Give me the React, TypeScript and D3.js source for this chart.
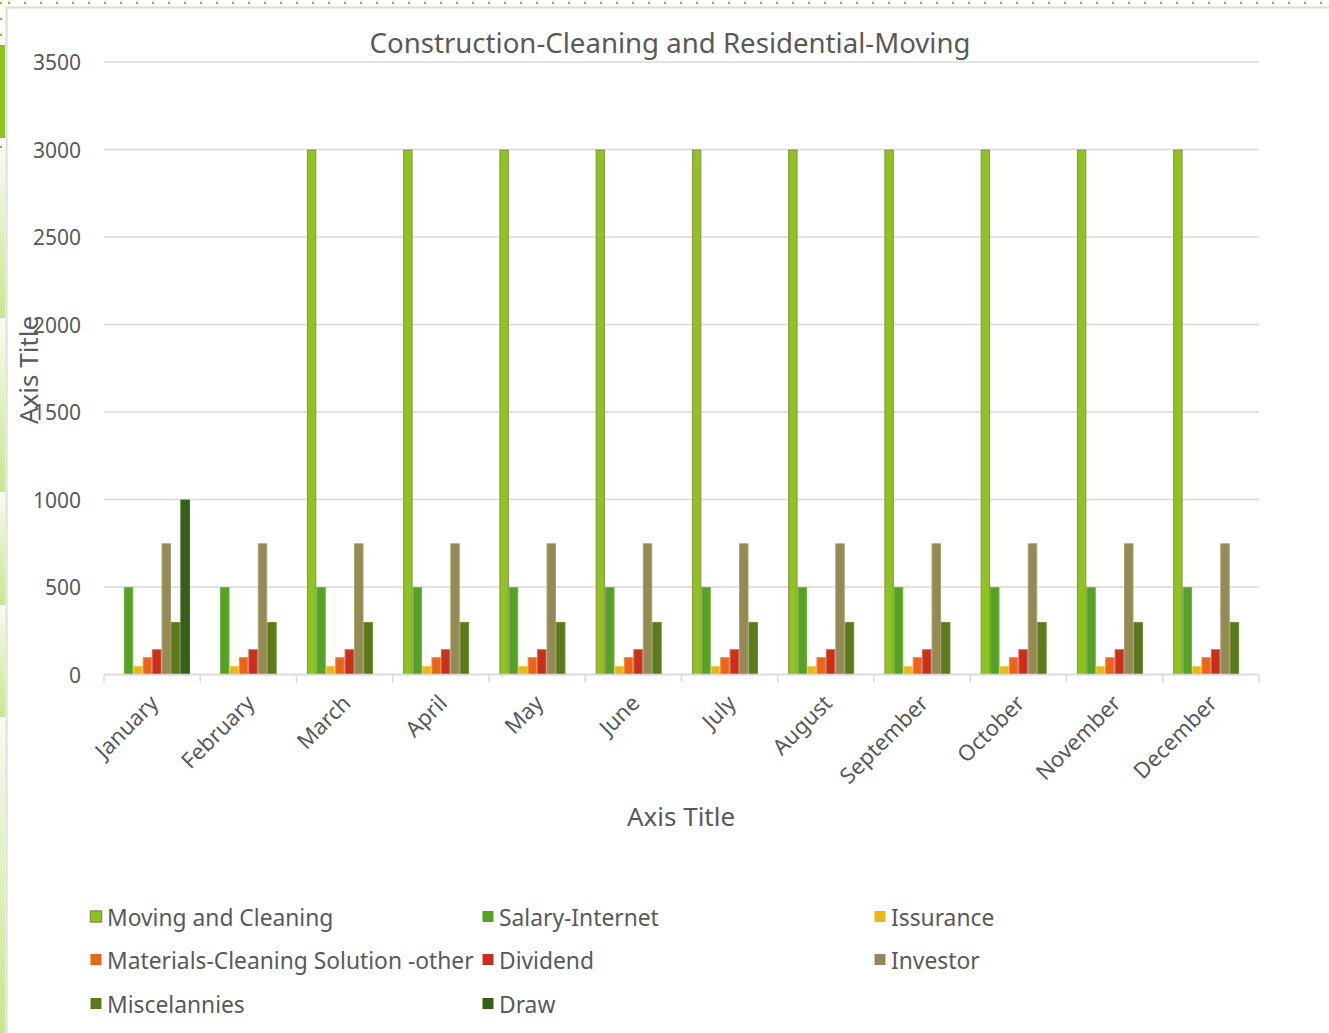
import React from "react";
import * as d3 from "d3";

const months = ["January","February","March","April","May","June","July","August","September","October","November","December"];
const legendLabels = ["Moving and Cleaning","Salary-Internet","Issurance","Materials-Cleaning Solution -other","Dividend","Investor","Miscelannies","Draw"];
const seriesColors = ["#8fc31f","#56a127","#e8b71a","#e8651a","#c8301e","#948a54","#5a7a1b","#336119"];
const seriesStroke = ["#948a54","#6fb33a","#f0cc50","#f08a4a","#d85a48","#a89e6c","#6d8a30","#336119"];

const movingCleaning = [0,0,3000,3000,3000,3000,3000,3000,3000,3000,3000,3000];
const salaryInternet = [500,500,500,500,500,500,500,500,500,500,500,500];
const insurance = [50,50,50,50,50,50,50,50,50,50,50,50];
const materials = [100,100,100,100,100,100,100,100,100,100,100,100];
const dividend = [145,145,145,145,145,145,145,145,145,145,145,145];
const investor = [750,750,750,750,750,750,750,750,750,750,750,750];
const miscelannies = [300,300,300,300,300,300,300,300,300,300,300,300];
const draw = [1000,0,0,0,0,0,0,0,0,0,0,0];
const yTicks = [0,500,1000,1500,2000,2500,3000,3500];

const allSeries = [movingCleaning, salaryInternet, insurance, materials, dividend, investor, miscelannies, draw];

const FONT = "'Noto Sans', sans-serif";
const TXT = "#595959";

export default function App() {
  const W = 1329, H = 1033;
  const left = 104, right = 1259, top = 62, bottom = 674.6;
  const x = d3.scaleBand<string>().domain(months).range([left, right]).paddingInner(0).paddingOuter(0);
  const y = d3.scaleLinear().domain([0, 3500]).range([bottom, top]);
  const bw = x.bandwidth();
  const gap = bw * 0.108;
  const inner = d3.scaleBand<number>().domain(d3.range(8)).range([gap, bw - gap]);

  const segs = [[150,318],[320,492],[494,605],[607,717],[719,1033]];
  const dotsTop = d3.range(8, W, 16);
  const dotsLeft = [2, 18, 34, 146];

  const legendCols = [90, 482, 874];
  const legendRows = [917, 960, 1004];

  return (
    <svg width={W} height={H} style={{position:"absolute", left:0, top:0, background:"#fff"}} fontFamily={FONT}>
      <defs>
        <linearGradient id="lg" x1="0" y1="0" x2="0" y2="1">
          <stop offset="0" stopColor="#f7fbee" />
          <stop offset="1" stopColor="#c8e68e" />
        </linearGradient>
      </defs>
      <rect x={0} y={0} width={W} height={H} fill="#fff" />
      {dotsTop.map((d,i)=>(<rect key={"dt"+i} x={d} y={2} width={2} height={2} fill="#8dc21f" />))}
      {dotsLeft.map((d,i)=>(<rect key={"dl"+i} x={0} y={d} width={2} height={2} fill="#8dc21f" />))}
      <rect x={0} y={45} width={5} height={93} fill="#8dc21f" />
      {segs.map((s,i)=>(<rect key={"sg"+i} x={0} y={s[0]} width={5} height={s[1]-s[0]} fill="url(#lg)" />))}
      <line x1={6} x2={W} y1={7.5} y2={7.5} stroke="#dcdcdc" strokeWidth={2} />
      <line x1={6.5} x2={6.5} y1={7} y2={H} stroke="#dcdcdc" strokeWidth={2} />

      <text x={670} y={46} textAnchor="middle" dominantBaseline="middle" fontSize={27.6} fill={TXT}>Construction-Cleaning and Residential-Moving</text>

      {yTicks.map(t => (
        <line key={"g"+t} x1={left} x2={right} y1={y(t)} y2={y(t)} stroke="#d9d9d9" strokeWidth={1.5} />
      ))}
      {yTicks.map(t => (
        <text key={"yt"+t} x={81} y={y(t)} textAnchor="end" dominantBaseline="central" fontSize={21} fill={TXT}>{t}</text>
      ))}

      {allSeries.map((vals, si) => (
        <g key={"s"+si}>
          {vals.map((v, mi) => v > 0 ? (
            <rect key={mi} x={(x(months[mi]) as number) + (inner(si) as number) + 0.5} y={y(v) + 0.5}
              width={inner.bandwidth() - 1} height={y(0) - y(v) - 0.5}
              fill={seriesColors[si]} stroke={seriesStroke[si]} strokeWidth={1} />
          ) : null)}
        </g>
      ))}

      <line x1={left} x2={right} y1={y(0)} y2={y(0)} stroke="#d9d9d9" strokeWidth={1.5} />
      {d3.range(13).map(i => {
        const xx = left + i * bw;
        return <line key={"tk"+i} x1={xx} x2={xx} y1={y(0)} y2={y(0)+8} stroke="#d9d9d9" strokeWidth={1.5} />;
      })}
      {months.map(m => {
        const cx = (x(m) as number) + bw / 2;
        return (
          <text key={"xl"+m} transform={`translate(${cx - 6},${691}) rotate(-45)`} textAnchor="end" dominantBaseline="hanging" fontSize={22} fill={TXT}>{m}</text>
        );
      })}

      <text x={681} y={816} textAnchor="middle" dominantBaseline="central" fontSize={26} fill={TXT}>Axis Title</text>
      <text transform={`translate(28,370) rotate(-90)`} textAnchor="middle" dominantBaseline="central" fontSize={26} fill={TXT}>Axis Title</text>

      {legendLabels.map((name, i) => {
        const col = i % 3, row = Math.floor(i / 3);
        const lx = legendCols[col], ly = legendRows[row];
        return (
          <g key={"lg"+i}>
            <rect x={lx + 0.5} y={ly - 6} width={11} height={11} fill={seriesColors[i]} stroke={i === 0 ? "#948a54" : seriesColors[i]} strokeWidth={i === 0 ? 1.5 : 0} />
            <text x={lx + 17} y={ly} dominantBaseline="central" fontSize={22.8} fill={TXT}>{name}</text>
          </g>
        );
      })}
    </svg>
  );
}
